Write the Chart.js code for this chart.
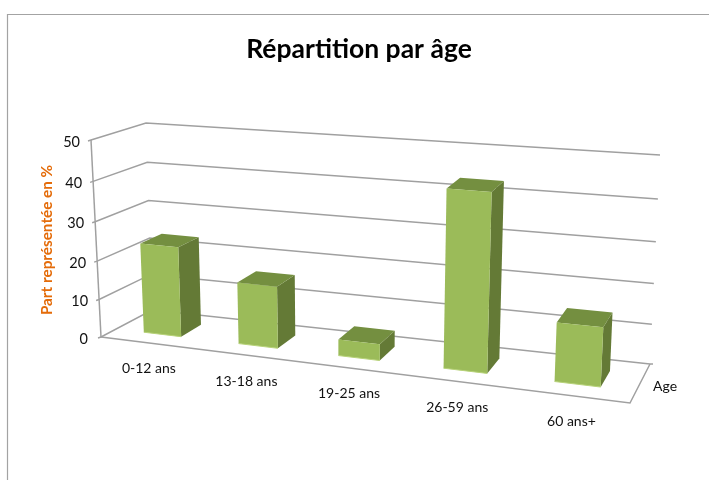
<!DOCTYPE html>
<html><head><meta charset="utf-8">
<style>html,body{margin:0;padding:0;background:#fff}canvas{display:block}</style>
<script src="https://cdn.jsdelivr.net/npm/chart.js@4/dist/chart.umd.min.js"></script>
</head><body><canvas id="c" width="709" height="480"></canvas>
<script>
const categories = ["0-12 ans","13-18 ans","19-25 ans","26-59 ans","60 ans+"];
const parts = [23.5, 16, 4.2, 43.5, 14.5];
const yTicks = [0,10,20,30,40,50];
const titleText = "Répartition par âge";
const yAxisTitle = "Part représentée en %";
const xAxisTitle = "Age";

// cube corners on screen: [u][v][w]
const C = {
  '000':[101,337],'100':[630,403],'010':[91,140],'110':[641,183],
  '001':[152,310],'101':[650,364],'011':[146,123],'111':[660,155]
};
const K = 0.124, KV = 0.06;
const warp = (t,k) => t*(1-k)/(1-k*t);
function P(u0,v0,w){
  const u = warp(u0,K), v = warp(v0,KV), r=[0,0];
  for(const a of [0,1])for(const b of [0,1])for(const c of [0,1]){
    const f=(a?u:1-u)*(b?v:1-v)*(c?w:1-w), q=C[''+a+b+c];
    r[0]+=f*q[0]; r[1]+=f*q[1];
  }
  return r;
}
function line(ctx,pts,col,lw){
  ctx.beginPath();pts.forEach((p,i)=>i?ctx.lineTo(p[0],p[1]):ctx.moveTo(p[0],p[1]));
  ctx.strokeStyle=col;ctx.lineWidth=lw;ctx.stroke();
}
function poly(ctx,pts,col){
  ctx.beginPath();pts.forEach((p,i)=>i?ctx.lineTo(p[0],p[1]):ctx.moveTo(p[0],p[1]));
  ctx.closePath();ctx.fillStyle=col;ctx.fill();
}
const frame3d = {
  id:'frame3d',
  beforeDatasetsDraw(chart){
    const ctx=chart.ctx, y=chart.scales.y, x=chart.scales.x;
    const GRID='#a0a0a0';
    ctx.save();
    line(ctx,[[7.5,480],[7.5,14.5],[709,14.5]],'#a3a3a3',1.2);
    y.ticks.forEach(t=>{
      const v=(y.bottom-y.getPixelForValue(t.value))/y.height;
      const a=P(0,v,0),b=P(0,v,1),c=P(1,v,1);
      line(ctx,[[a[0]-3,a[1]+1],a,b,c],GRID,1.5);
      ctx.fillStyle='#111';ctx.font='14.5px Lato';ctx.textAlign='right';ctx.textBaseline='middle';
      ctx.fillText(t.label,a[0]-(t.value===0?13:11),a[1]+2);
    });
    line(ctx,[P(0,0,0),P(0,1,0)],GRID,1.5);
    line(ctx,[P(0,0,0),P(1,0,0),P(1,0,1)],GRID,1.5);
    const fr=P(1,0,1);line(ctx,[fr,[fr[0]+3,fr[1]]],GRID,1.5);
    ctx.fillStyle='#111';ctx.font='14px Lato';ctx.textAlign='center';ctx.textBaseline='middle';
    x.ticks.forEach((t,i)=>{
      const u=(x.getPixelForTick(i)-x.left)/x.width, p=P(u,0,0);
      ctx.fillText(categories[i],p[0]+1,p[1]+26);
    });
    ctx.textAlign='left';
    ctx.fillText(xAxisTitle,653,386);
    ctx.save();ctx.translate(47,240);ctx.rotate(-Math.PI/2);
    ctx.fillStyle='#e46c0a';ctx.font='bold 15.3px Lato';ctx.textAlign='center';
    ctx.fillText(yAxisTitle,0,0);ctx.restore();
    ctx.restore();
  },
  afterDatasetsDraw(chart){
    const ctx=chart.ctx, x=chart.scales.x, y=chart.scales.y;
    const W0=0.30,W1=0.72;
    chart.getDatasetMeta(0).data.forEach(b=>{
      const u0=(b.x-b.width/2-x.left)/x.width, u1=(b.x+b.width/2-x.left)/x.width;
      const v=(y.bottom-b.y)/y.height;
      const fbl=P(u0,0,W0),fbr=P(u1,0,W0),ftl=P(u0,v,W0),ftr=P(u1,v,W0);
      const bbr=P(u1,0,W1),btr=P(u1,v,W1),btl=P(u0,v,W1);
      poly(ctx,[fbr,bbr,btr,ftr],'#647a36');
      poly(ctx,[ftl,ftr,btr,btl],'#748f40');
      poly(ctx,[fbl,fbr,ftr,ftl],'#9bbb59');
      line(ctx,[fbl,fbr],'#b7d279',1);
    });
  }
};
new Chart(document.getElementById('c'),{
  type:'bar',
  data:{labels:categories,datasets:[{label:yAxisTitle,data:parts,backgroundColor:'rgba(0,0,0,0)',borderWidth:0,categoryPercentage:1,barPercentage:0.4}]},
  options:{
    responsive:false,animation:false,
    layout:{padding:{left:9}},
    plugins:{legend:{display:false},tooltip:{enabled:false},
      title:{display:true,text:titleText,color:'#000',font:{family:'Lato',size:26.5,weight:'bold'},padding:{top:34,bottom:0}}},
    scales:{
      x:{display:false,type:'category'},
      y:{display:false,min:0,max:50,ticks:{stepSize:10}}
    }
  },
  plugins:[frame3d]
});
</script></body></html>
